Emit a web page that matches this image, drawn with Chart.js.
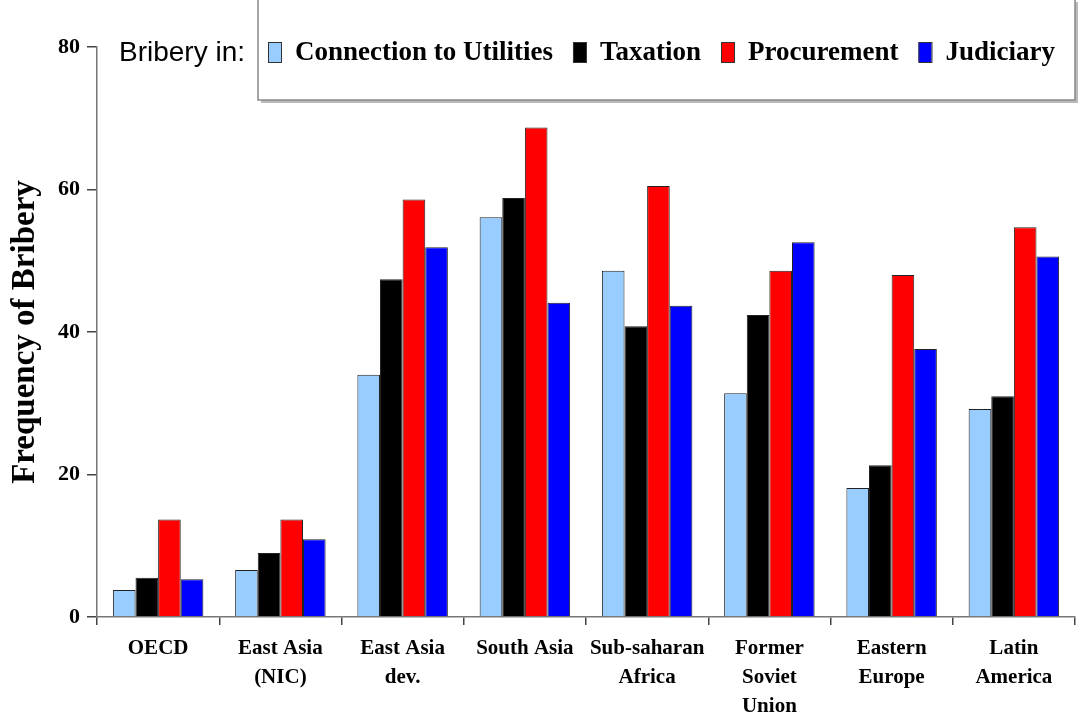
<!DOCTYPE html>
<html>
<head>
<meta charset="utf-8">
<script src="https://cdn.jsdelivr.net/npm/chart.js@4/dist/chart.umd.min.js"></script>
<style>
  html, body { margin: 0; padding: 0; background: #fff; }
  #wrap { width: 1080px; height: 719px; }
</style>
</head>
<body>
<div id="wrap"><canvas id="briberyChart" width="1080" height="719"></canvas></div>
<script>
// datos
const regiones = [
  "OECD", ["East Asia", "(NIC)"], ["East Asia", "dev."], "South Asia",
  ["Sub-saharan", "Africa"], ["Former", "Soviet", "Union"],
  ["Eastern", "Europe"], ["Latin", "America"]
];
const utilities   = [3.8, 6.6, 34.0, 56.1, 48.6, 31.4, 18.1, 29.2];
const taxation    = [5.5, 9.0, 47.4, 58.8, 40.8, 42.4, 21.3, 31.0];
const procurement = [13.7, 13.7, 58.6, 68.7, 60.5, 48.6, 48.0, 54.7];
const judiciary   = [5.3, 10.9, 51.9, 44.1, 43.7, 52.6, 37.6, 50.6];
const yTicks = [0, 20, 40, 60, 80];

const serif = "'Liberation Serif', 'Times New Roman', serif";

// leyenda dibujada a mano dentro del area
const legendBox = {
  id: "legendBox",
  afterDraw(chart) {
    const ctx = chart.ctx;
    ctx.save();
    // sombra
    ctx.fillStyle = "#bbbbbb";
    ctx.fillRect(261, 2, 817, 101);
    ctx.fillStyle = "#ffffff";
    ctx.fillRect(258, -2, 817, 102);
    ctx.strokeStyle = "#888888";
    ctx.lineWidth = 1.5;
    ctx.strokeRect(258, -2, 817, 102);

    ctx.fillStyle = "#000";
    ctx.textBaseline = "middle";
    ctx.font = "28px 'Liberation Sans', Arial, sans-serif";
    ctx.fillText("Bribery in:", 119, 53);

    ctx.font = "bold 27px " + serif;
    let x = 268;
    chart.data.datasets.forEach(ds => {
      ctx.fillStyle = ds.backgroundColor;
      ctx.fillRect(x, 42, 13, 20);
      ctx.strokeStyle = "#333";
      ctx.lineWidth = 1;
      ctx.strokeRect(x + 0.5, 42.5, 13, 20);
      ctx.fillStyle = "#000";
      ctx.fillText(ds.label, x + 27, 53);
      x += 27 + ctx.measureText(ds.label).width + 20;
    });
    ctx.restore();
  }
};

function dataset(label, data, color) {
  return {
    label: label,
    data: data,
    backgroundColor: color,
    borderColor: "#222",
    borderWidth: 1,
    categoryPercentage: 0.74,
    barPercentage: 1.0
  };
}

new Chart(document.getElementById("briberyChart"), {
  type: "bar",
  data: {
    labels: regiones,
    datasets: [
      dataset("Connection to Utilities", utilities, "#99ccff"),
      dataset("Taxation", taxation, "#000000"),
      dataset("Procurement", procurement, "#ff0000"),
      dataset("Judiciary", judiciary, "#0000ff")
    ]
  },
  options: {
    responsive: false,
    animation: false,
    layout: { padding: { top: 47, right: 5, left: 0, bottom: 0 } },
    plugins: {
      legend: { display: false },
      tooltip: { enabled: false }
    },
    scales: {
      x: {
        afterFit: s => { s.height = 102; },
        border: { color: "#777", width: 1.5 },
        grid: { offset: true, drawOnChartArea: false, tickLength: 8, color: "#444", lineWidth: 1.5 },
        ticks: {
          color: "#000",
          padding: 9,
          maxRotation: 0,
          autoSkip: false,
          font: { family: serif, size: 21, weight: "bold", lineHeight: 1.38 }
        }
      },
      y: {
        min: 0,
        max: 80,
        afterFit: s => { s.width = 97; },
        afterBuildTicks: s => { s.ticks = yTicks.map(v => ({ value: v })); },
        border: { color: "#777", width: 1.5 },
        grid: { drawOnChartArea: false, tickLength: 10, color: "#444", lineWidth: 1.5 },
        ticks: {
          color: "#000",
          padding: 7,
          font: { family: serif, size: 22, weight: "bold" }
        },
        title: {
          display: true,
          text: "Frequency of Bribery",
          color: "#000",
          padding: { top: 6, bottom: 4 },
          font: { family: serif, size: 33, weight: "bold" }
        }
      }
    }
  },
  plugins: [legendBox]
});
</script>
</body>
</html>
